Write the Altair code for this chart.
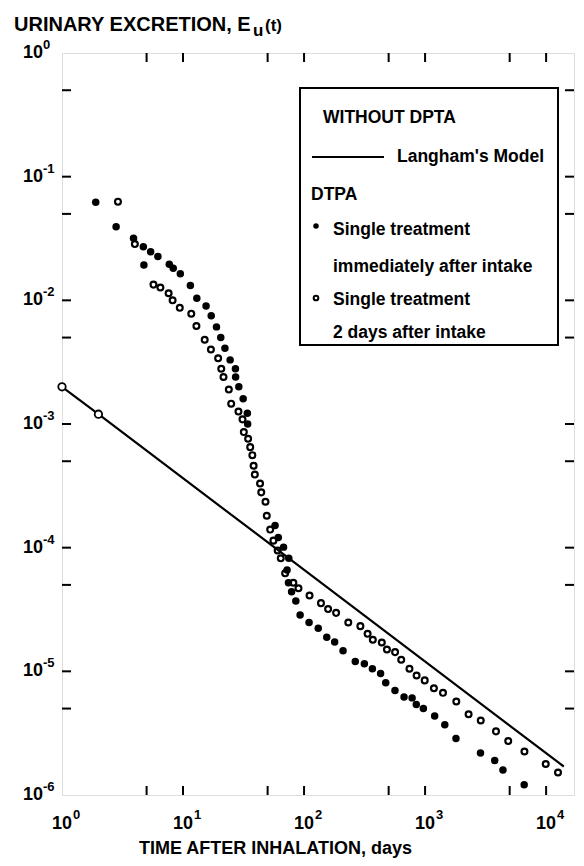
import altair as alt
import pandas as pd

# ---------------- data ----------------
# Langham's model (without DTPA)
model_t = [1, 2, 14000]
model_e = [2.0e-3, 1.2e-3, 1.7e-6]
model_pt_t = [1, 2]
model_pt_e = [2.0e-3, 1.2e-3]

# DTPA, single treatment immediately after intake (filled dots)
imm_t = [1.9, 2.8, 3.9, 4.7, 4.75, 5.4, 6.2, 7.7, 8.3, 9.5,
         11.5, 13.0, 15.5, 17.1, 18.9, 20.5, 22.2, 24.5, 27.1, 27.2,
         28.9, 31.4, 34.0, 34.2,
         57.6, 61.3, 67.7, 74.8, 72.4, 74.3, 78.9, 85.5, 92.8, 110,
         131, 154, 179, 210, 265, 315, 367, 429, 473, 564,
         670, 781, 846, 968, 1200, 1455, 1800, 2870, 3760, 4400,
         6590]
imm_e = [0.0621, 0.0394, 0.0318, 0.0271, 0.0193, 0.0247, 0.0226, 0.0196, 0.0182, 0.0164,
         0.0132, 0.0104, 0.0090, 0.0075, 0.0061, 0.0050, 0.0041, 0.0033, 0.0028, 0.0024,
         0.0020, 0.0016, 0.00122, 0.00100,
         1.51e-4, 1.21e-4, 1.01e-4, 8.2e-5, 6.6e-5, 5.2e-5, 4.4e-5, 3.7e-5, 2.86e-5, 2.48e-5,
         2.23e-5, 1.89e-5, 1.73e-5, 1.47e-5, 1.20e-5, 1.15e-5, 1.05e-5, 9.6e-6, 8.1e-6, 7.0e-6,
         6.2e-6, 6.1e-6, 5.4e-6, 5.0e-6, 4.35e-6, 3.7e-6, 2.86e-6, 2.19e-6, 1.90e-6, 1.59e-6,
         1.21e-6]

# DTPA, single treatment 2 days after intake (open circles)
two_t = [2.9, 4.0, 5.7, 6.5, 7.6, 8.2, 9.4, 11.7, 12.9, 15.1,
         17.0, 19.5, 20.7, 21.6, 23.9, 25.0, 28.7, 31.0, 31.8, 34.5,
         35.9, 37.4, 38.3, 39.2, 43.3, 44.3, 48.0, 49.2, 52.5, 55.8,
         60.5, 64.2, 69.8, 81.6, 89.9, 111, 138, 158, 184, 232,
         292, 335, 370, 439, 484, 565, 635, 743, 851, 993,
         1183, 1406, 1811, 2288, 2884, 3854, 4864, 6622, 9930, 12540]
two_e = [0.0628, 0.0285, 0.0134, 0.0127, 0.0114, 0.0100, 0.0087, 0.0078, 0.0062, 0.0048,
         0.0040, 0.0034, 0.0028, 0.0024, 0.0019, 0.00146, 0.00126, 0.00109, 8.6e-4, 7.6e-4,
         6.5e-4, 5.6e-4, 4.6e-4, 3.9e-4, 3.3e-4, 2.8e-4, 2.35e-4, 1.81e-4, 1.40e-4, 1.14e-4,
         9.5e-5, 8.2e-5, 6.2e-5, 5.2e-5, 4.7e-5, 4.1e-5, 3.56e-5, 3.19e-5, 2.97e-5, 2.48e-5,
         2.32e-5, 2.01e-5, 1.80e-5, 1.71e-5, 1.50e-5, 1.43e-5, 1.24e-5, 1.05e-5, 9.25e-6, 8.45e-6,
         7.3e-6, 6.7e-6, 5.7e-6, 4.5e-6, 4.0e-6, 3.27e-6, 2.73e-6, 2.25e-6, 1.78e-6, 1.52e-6]

# axes
x_domain = [1, 17000]
y_domain = [1e-6, 1]
x_label_vals = [1, 10, 100, 1000, 10000]
x_label_exps = ["0", "1", "2", "3", "4"]
y_label_vals = [1, 1e-1, 1e-2, 1e-3, 1e-4, 1e-5, 1e-6]
y_label_exps = ["0", "-1", "-2", "-3", "-4", "-5", "-6"]
label_base = "10"
x_ticks = [5, 10, 50, 100, 500, 1000, 5000, 10000]
y_ticks = [5e-1, 1e-1, 5e-2, 1e-2, 5e-3, 1e-3, 5e-4, 1e-4, 5e-5, 1e-5, 5e-6]

x_title = "TIME AFTER INHALATION, days"
y_title_parts = ["URINARY EXCRETION, E", "u", "(t)"]
legend_texts = ["WITHOUT DPTA", "Langham's Model", "DTPA",
                "Single treatment", "immediately after intake",
                "Single treatment", "2 days after intake"]

# ---------------- chart ----------------
W, H = 512, 742
FONT = "Liberation Sans"

xs = alt.Scale(type="log", domain=x_domain, nice=False)
ys = alt.Scale(type="log", domain=y_domain, nice=False)

x_axis = alt.Axis(values=x_label_vals, labels=False, ticks=False, domain=False, grid=False,
                  title=x_title, titleFont=FONT, titleFontSize=18, titleFontWeight="bold",
                  titleColor="black", titleX=213, titleY=58, titleBaseline="alphabetic",
                  titleAnchor="middle")
y_axis = alt.Axis(values=y_label_vals, labels=False, ticks=False, domain=False, grid=False,
                  title=None)

model_df = pd.DataFrame({"t": model_t, "e": model_e})
model_pt_df = pd.DataFrame({"t": model_pt_t, "e": model_pt_e})
imm_df = pd.DataFrame({"t": imm_t, "e": imm_e})
two_df = pd.DataFrame({"t": two_t, "e": two_e})

line = alt.Chart(model_df).mark_line(color="black", strokeWidth=2.2).encode(
    x=alt.X("t:Q", scale=xs, axis=x_axis),
    y=alt.Y("e:Q", scale=ys, axis=y_axis),
)
line_pts = alt.Chart(model_pt_df).mark_point(shape="circle", filled=True, fill="white",
                                             stroke="black", strokeWidth=1.8, size=55,
                                             opacity=1).encode(
    x=alt.X("t:Q", scale=xs), y=alt.Y("e:Q", scale=ys))
imm = alt.Chart(imm_df).mark_circle(color="black", size=56, opacity=1).encode(
    x=alt.X("t:Q", scale=xs), y=alt.Y("e:Q", scale=ys))
two = alt.Chart(two_df).mark_point(shape="circle", filled=False, stroke="black",
                                   strokeWidth=2.2, size=34, opacity=1).encode(
    x=alt.X("t:Q", scale=xs), y=alt.Y("e:Q", scale=ys))

# inward ticks on all four sides
xt_df = pd.DataFrame({"t": x_ticks})
yt_df = pd.DataFrame({"e": y_ticks})
TL = 9
tick_bottom = alt.Chart(xt_df).mark_rule(color="black", strokeWidth=2).encode(
    x=alt.X("t:Q", scale=xs), y=alt.value(H), y2=alt.value(H - TL))
tick_top = alt.Chart(xt_df).mark_rule(color="black", strokeWidth=2).encode(
    x=alt.X("t:Q", scale=xs), y=alt.value(0), y2=alt.value(TL))
tick_left = alt.Chart(yt_df).mark_rule(color="black", strokeWidth=2).encode(
    y=alt.Y("e:Q", scale=ys), x=alt.value(0), x2=alt.value(TL))
tick_right = alt.Chart(yt_df).mark_rule(color="black", strokeWidth=2).encode(
    y=alt.Y("e:Q", scale=ys), x=alt.value(W), x2=alt.value(W - TL))

# tick labels "10" with raised exponents
xl_df = pd.DataFrame({"t": x_label_vals, "base": label_base, "exp": x_label_exps})
yl_df = pd.DataFrame({"e": y_label_vals, "base": label_base, "exp": y_label_exps})
XL_BASE = H + 34
xl_base = alt.Chart(xl_df).mark_text(font=FONT, fontSize=18, fontWeight="bold", align="center",
                                     baseline="alphabetic", color="black").encode(
    x=alt.X("t:Q", scale=xs), y=alt.value(XL_BASE), text="base:N")
xl_exp = alt.Chart(xl_df).mark_text(font=FONT, fontSize=13, fontWeight="bold", align="left",
                                    baseline="alphabetic", dx=11, color="black").encode(
    x=alt.X("t:Q", scale=xs), y=alt.value(XL_BASE - 10), text="exp:N")
yl_base = alt.Chart(yl_df).mark_text(font=FONT, fontSize=18, fontWeight="bold", align="right",
                                     baseline="middle", color="black").encode(
    y=alt.Y("e:Q", scale=ys), x=alt.value(-19), text="base:N")
yl_exp = alt.Chart(yl_df).mark_text(font=FONT, fontSize=13, fontWeight="bold", align="left",
                                    baseline="middle", dy=-8, color="black").encode(
    y=alt.Y("e:Q", scale=ys), x=alt.value(-19), text="exp:N")

# y-axis title (horizontal, above the plot)
def txt(s, x, y, size=16, weight="bold", align="left", baseline="alphabetic"):
    return alt.Chart(pd.DataFrame({"s": [s]})).mark_text(
        font=FONT, fontSize=size, fontWeight=weight, align=align, baseline=baseline,
        color="black").encode(x=alt.value(x), y=alt.value(y), text="s:N")

yt1 = txt(y_title_parts[0], -48, -22, size=20)
yt2 = txt(y_title_parts[1], 191, -17, size=17)
yt3 = txt(y_title_parts[2], 203, -22, size=17)

# legend box
box = alt.Chart(pd.DataFrame({"s": [""]})).mark_rect(fill="white", stroke="black",
                                                      strokeWidth=2).encode(
    x=alt.value(238), x2=alt.value(496), y=alt.value(35), y2=alt.value(292))
leg_line = alt.Chart(pd.DataFrame({"s": [""]})).mark_rule(color="black", strokeWidth=2).encode(
    x=alt.value(250), x2=alt.value(322), y=alt.value(104))
leg_dot = alt.Chart(pd.DataFrame({"s": [""]})).mark_circle(color="black", size=30,
                                                            opacity=1).encode(
    x=alt.value(254), y=alt.value(173))
leg_open = alt.Chart(pd.DataFrame({"s": [""]})).mark_point(shape="circle", filled=False,
                                                            stroke="black", strokeWidth=2,
                                                            size=22, opacity=1).encode(
    x=alt.value(254), y=alt.value(245))
LS = 17.5
lt = [
    txt(legend_texts[0], 261, 65, size=LS, baseline="middle"),
    txt(legend_texts[1], 335, 104, size=LS, baseline="middle"),
    txt(legend_texts[2], 249, 142, size=LS, baseline="middle"),
    txt(legend_texts[3], 271, 177, size=LS, baseline="middle"),
    txt(legend_texts[4], 271, 214, size=LS, baseline="middle"),
    txt(legend_texts[5], 271, 247, size=LS, baseline="middle"),
    txt(legend_texts[6], 271, 280, size=LS, baseline="middle"),
]

chart = alt.layer(
    line, tick_bottom, tick_top, tick_left, tick_right,
    two, imm, line_pts,
    box, leg_line, leg_dot, leg_open, *lt,
    xl_base, xl_exp, yl_base, yl_exp,
    yt1, yt2, yt3,
).properties(
    width=W, height=H,
    autosize=alt.AutoSizeParams(type="none"),
    padding={"left": 54, "top": 45, "right": 2, "bottom": 63},
).configure_view(stroke="black", strokeWidth=2.5).configure(background="white")

chart.save("out.html", embed_options={"renderer": "svg", "actions": False})
